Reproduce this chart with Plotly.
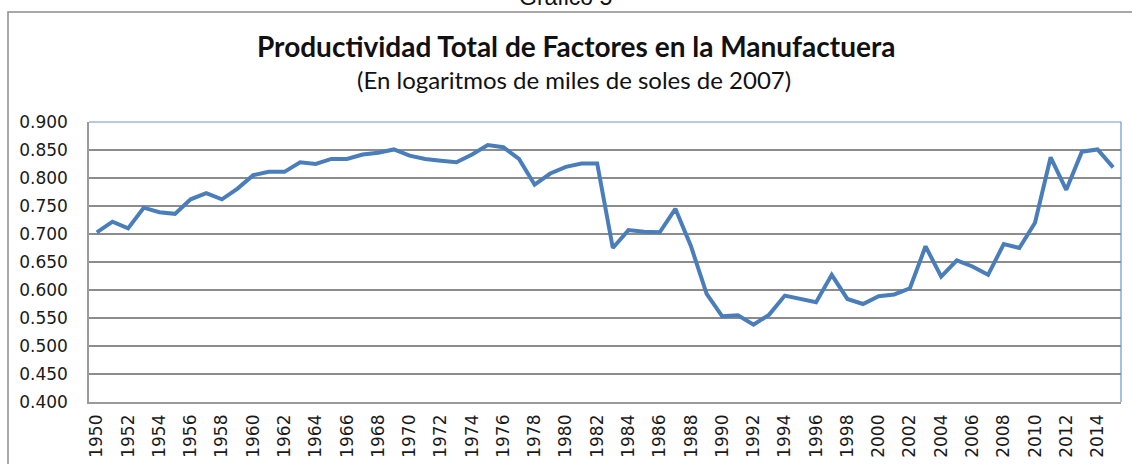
import plotly.graph_objects as go

years = list(range(1950, 2016))
ptf = [0.703, 0.722, 0.710, 0.747, 0.739, 0.736, 0.762, 0.773, 0.762, 0.781,
       0.805, 0.811, 0.811, 0.828, 0.825, 0.834, 0.834, 0.842, 0.845, 0.851,
       0.840, 0.834, 0.831, 0.828, 0.842, 0.859, 0.855, 0.834, 0.788, 0.808,
       0.820, 0.826, 0.826, 0.675, 0.707, 0.704, 0.703, 0.745, 0.678, 0.593,
       0.553, 0.555, 0.538, 0.556, 0.590, 0.584, 0.578, 0.627, 0.584, 0.575,
       0.589, 0.592, 0.603, 0.678, 0.624, 0.653, 0.642, 0.627, 0.682, 0.675,
       0.720, 0.837, 0.779, 0.847, 0.851, 0.819]
x_labels = [str(y) for y in years]
tick_labels = [str(y) for y in years[::2]]
y_ticks = [0.4 + 0.05 * i for i in range(11)]

W, H = 1132, 464
L, R, T, B = 89, 11, 122, 62
PW, PH = W - L - R, H - T - B

def px(p):
    return (p - L) / PW

def py(p):
    return (H - B - p) / PH

fig = go.Figure()
fig.add_trace(go.Scatter(x=x_labels, y=ptf, mode="lines",
                         line=dict(color="#4A7EBB", width=4),
                         hoverinfo="x+y", showlegend=False))

fig.update_layout(
    width=W, height=H,
    margin=dict(l=L, r=R, t=T, b=B, autoexpand=False),
    paper_bgcolor="white", plot_bgcolor="white",
    xaxis=dict(type="category", tickmode="array", tickvals=tick_labels,
               ticktext=tick_labels, tickangle=-90, showgrid=False,
               showline=True, linecolor="#9A9A9A", linewidth=1.5,
               ticks="", automargin=False, ticklabelstandoff=4,
               tickfont=dict(family="DejaVu Sans", size=17, color="#1a1a1a"),
               range=[-0.5, len(years) - 0.5]),
    yaxis=dict(range=[0.4, 0.9], tickmode="array", tickvals=y_ticks,
               ticktext=[f"{v:.3f}" for v in y_ticks],
               showgrid=True, gridcolor="#8C8C8C", gridwidth=1.5,
               showline=True, linecolor="#9A9A9A", linewidth=1.5, zeroline=False,
               ticks="", ticklabelstandoff=16, automargin=False,
               tickfont=dict(family="DejaVu Sans", size=17, color="#1a1a1a")),
    shapes=[
        dict(type="rect", xref="paper", yref="paper", x0=px(8), x1=px(1145),
             y0=py(12), y1=py(480), line=dict(color="#8C8C8C", width=1.5),
             layer="below"),
        dict(type="line", xref="paper", yref="paper", x0=0, x1=1, y0=1, y1=1,
             line=dict(color="#6A96CF", width=1.2)),
        dict(type="line", xref="paper", yref="paper", x0=1, x1=1, y0=0, y1=1,
             line=dict(color="#6A96CF", width=1.2)),
    ],
    annotations=[
        dict(text="Gráfico 5", xref="paper", yref="paper", x=px(565), y=py(-3),
             showarrow=False, xanchor="center", yanchor="middle",
             font=dict(family="Liberation Sans", size=23, color="#111")),
        dict(text="<b>Productividad Total de Factores en la Manufactuera</b>",
             xref="paper", yref="paper", x=px(576), y=py(46), showarrow=False,
             xanchor="center", yanchor="middle",
             font=dict(family="Lato", size=28, color="#111")),
        dict(text="(En logaritmos de miles de soles de 2007)",
             xref="paper", yref="paper", x=px(574), y=py(79), showarrow=False,
             xanchor="center", yanchor="middle",
             font=dict(family="Lato", size=24, color="#111")),
    ],
)

fig.write_html("out.html", config={"displayModeBar": False},
               post_script="document.body.style.margin='0';document.body.style.overflow='hidden';")
